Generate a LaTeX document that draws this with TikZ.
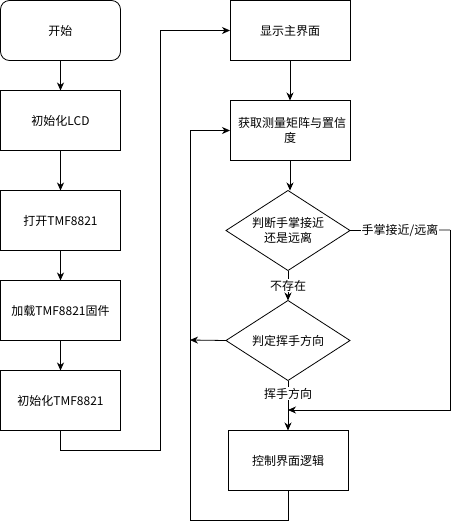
\documentclass[tikz,border=0pt]{standalone}
\usepackage{fontspec}
\setmainfont{Noto Sans CJK SC}
\usetikzlibrary{positioning,shapes.geometric,arrows.meta}

\begin{document}
\begin{tikzpicture}[x=1pt,y=-1pt,->,>={Stealth[length=8pt,width=7pt,inset=2.5pt]},line width=0.8pt,node distance=30pt,
	box/.style={rectangle,draw,text width=104pt,inner sep=8pt,outer sep=0pt,minimum height=60pt,align=center,font=\fontsize{12}{15}\selectfont},
	start box/.style={box,rounded corners=9pt},
	check/.style={diamond,draw,aspect=1.55,inner sep=0pt,outer sep=0pt,minimum width=124pt,minimum height=80pt,align=center,font=\fontsize{12}{15}\selectfont},
	lbl/.style={fill=white,inner sep=1pt,font=\fontsize{12}{15}\selectfont}]

	\useasboundingbox (0,0) rectangle (459,531);

	% left column
	\node[start box] (start) at (60.5,30.5) {开始};
	\node[box] (lcd) [below=of start] {初始化LCD};
	\node[box] (open) [below=40pt of lcd] {打开TMF8821};
	\node[box] (load) [below=of open] {加载TMF8821固件};
	\node[box] (init) [below=of load] {初始化TMF8821};

	% right column
	\node[box] (show) at (290,30.5) {显示主界面};
	\node[box] (acq) [below=40pt of show] {获取测量矩阵与置信\\度};
	\node[check] (d1) [below=30pt of acq, xshift=-2pt] {判断手掌接近\\还是远离};
	\node[check] (d2) [below=30pt of d1] {判定挥手方向};
	\node[box] (ctrl) [below=50pt of d2] {控制界面逻辑};

	\coordinate (j1) at (160,450);
	\coordinate (r1) at (450,230);
	\coordinate (r2) at (450,410);
	\coordinate (l2) at (190,340);
	\coordinate (j2) at (190,520);

	\path
		(start) edge (lcd)
		(lcd) edge (open)
		(open) edge (load)
		(load) edge (init)
		(show) edge (acq)
		(acq.south) edge (acq.south |- d1.north)
		(d1) edge node[lbl] {不存在} (d2)
		(d2) edge node[lbl, pos=0.26] {挥手方向} (ctrl)
		(d2.west) edge (l2);

	\draw (init.south) |- (j1) |- (show.west);
	\draw[-] (d1.east) -- node[lbl] {手掌接近/远离} (r1);
	\draw (r1) -- (r2) -- (r2 -| ctrl.north);
	\draw (ctrl.south) |- (j2) |- (acq.west);

\end{tikzpicture}
\end{document}
